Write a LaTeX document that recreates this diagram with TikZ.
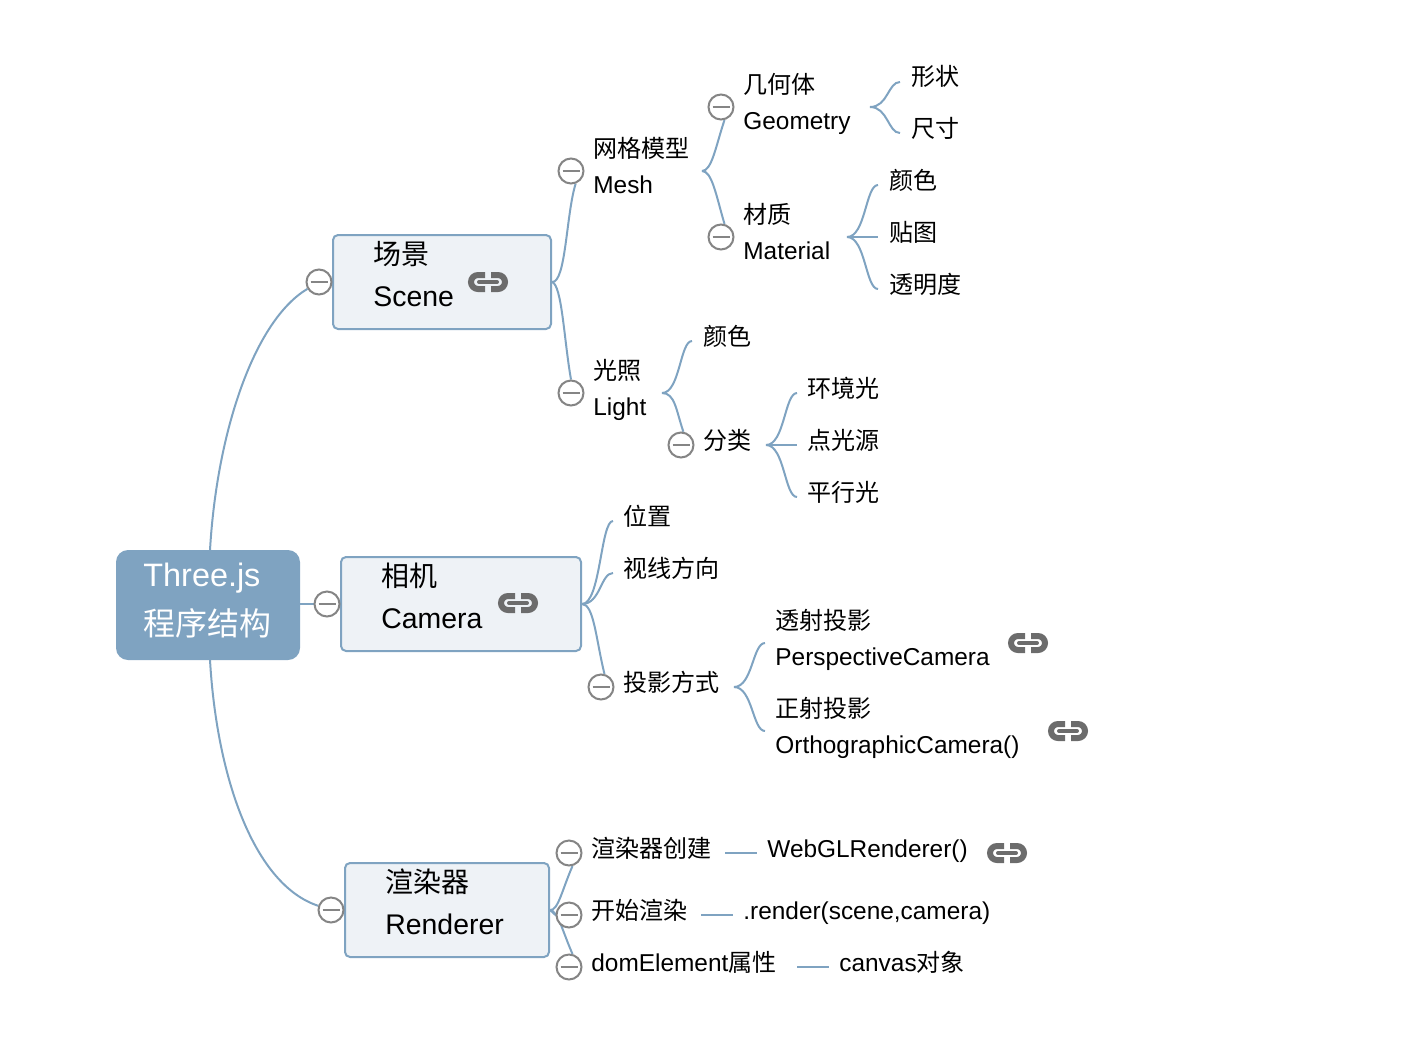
\documentclass[tikz,border=0pt]{standalone}
\usepackage{fontspec}
\setmainfont{Liberation Sans}
\newfontfamily\cjf[Scale=0.985]{Noto Sans CJK SC}
\newcommand\cj[1]{{\cjf #1}}
\usetikzlibrary{calc,backgrounds}
\definecolor{linkblue}{HTML}{7FA3C1}
\definecolor{boxfill}{HTML}{EEF2F6}
\definecolor{ctlgray}{HTML}{858585}
\definecolor{iconGray}{HTML}{6C6C6C}
\tikzset{
  conn/.style={draw=linkblue,line width=1pt},
  rootbox/.style={rectangle,fill=linkblue,rounded corners=6pt,inner sep=0pt},
  topicbox/.style={rectangle,draw=linkblue,fill=boxfill,line width=1pt,rounded corners=2.5pt,inner sep=0pt},
  collapse/.style={circle,draw=ctlgray,fill=white,line width=1pt,minimum size=12.5pt,inner sep=0pt,
    path picture={\draw[ctlgray,line width=1pt] ($(path picture bounding box.center)+(-8.5,0)$) -- ($(path picture bounding box.center)+(8.5,0)$);}},
  rootlbl/.style={anchor=base west,align=left,inner sep=0pt,text=white,font=\fontsize{16.2}{24.5}\selectfont},
  mainlbl/.style={anchor=base west,align=left,inner sep=0pt,text=black,font=\fontsize{14.2}{20.6}\selectfont},
  sublbl/.style={anchor=base west,align=left,inner sep=0pt,text=black,font=\fontsize{12.2}{18}\selectfont},
  pics/linkicon/.style={code={
    \draw[iconGray,line width=3pt] (-3,-7) -- (-10,-7) arc[start angle=270,end angle=90,radius=7] -- (-3,7);
    \draw[iconGray,line width=3pt] (3,-7) -- (10,-7) arc[start angle=-90,end angle=90,radius=7] -- (3,7);
    \draw[iconGray,line width=2pt,line cap=round] (-9,0) -- (9,0);
  }}
}
\newcommand\curl[2]{\draw[conn] (#1) .. controls ($(#1)!.6!(#2|-#1)$) and ($(#1|-#2)!.6!(#2)$) .. (#2);}
\begin{document}
\begin{tikzpicture}[x=0.5pt,y=-0.5pt]
\useasboundingbox (0,0) rectangle (1402,1056);
% boxes
\node[rootbox,minimum width=92pt,minimum height=55pt] (root) at (208,605) {};
\node[topicbox,minimum width=109pt,minimum height=47pt] (scene) at (442,282) {};
\node[topicbox,minimum width=120pt,minimum height=47pt] (camera) at (461,604) {};
\node[topicbox,minimum width=102pt,minimum height=47pt] (renderer) at (447,910) {};
% collapse controls
\node[collapse] (cScene) at (319,282) {};
\node[collapse] (cCamera) at (327,604) {};
\node[collapse] (cRenderer) at (331,910) {};
\node[collapse] (cMesh) at (571,171) {};
\node[collapse] (cLight) at (571,393) {};
\node[collapse] (cGeom) at (721,107) {};
\node[collapse] (cMat) at (721,237) {};
\node[collapse] (cKind) at (681,445) {};
\node[collapse] (cProj) at (601,687) {};
\node[collapse] (cCreate) at (569,853) {};
\node[collapse] (cStart) at (569,915) {};
\node[collapse] (cDom) at (569,967) {};
% branch coordinates
\coordinate (rootT) at (210,550);
\coordinate (rootB) at (210,660);
\coordinate (meshR) at (702,171);
\coordinate (geomR) at (870,107);
\coordinate (matR) at (847,237);
\coordinate (lightR) at (662,393);
\coordinate (kindR) at (766,445);
\coordinate (projR) at (734,687);
\coordinate (eShape) at (900,82);
\coordinate (eSize) at (900,133);
\coordinate (eCol) at (878,185);
\coordinate (eTex) at (878,237);
\coordinate (eOpa) at (878,289);
\coordinate (eLCol) at (692,341);
\coordinate (eAmb) at (797,393);
\coordinate (ePt) at (797,445);
\coordinate (ePar) at (797,497);
\coordinate (ePos) at (613,521);
\coordinate (eView) at (613,573);
\coordinate (ePer) at (765,643);
\coordinate (eOrt) at (765,731);
\coordinate (d1a) at (725,853);
\coordinate (d1b) at (757,853);
\coordinate (d2a) at (701,915);
\coordinate (d2b) at (733,915);
\coordinate (d3a) at (797,967);
\coordinate (d3b) at (829,967);
% connectors, behind the controls
\begin{pgfonlayer}{background}
\draw[conn] (rootT) .. controls (217,430) and (255,320) .. (cScene);
\draw[conn] (rootB) .. controls (217,780) and (255,885) .. (cRenderer);
\draw[conn] (root.east|-cCamera) -- (cCamera.west);
\draw[conn] (scene.east) .. controls (566,283) and (566,215) .. (cMesh.-70);
\draw[conn] (scene.east) .. controls (562,285) and (564,340) .. (cLight.north);
\draw[conn] (meshR) .. controls (712,171) and (716,145) .. (cGeom.-75);
\draw[conn] (meshR) .. controls (712,171) and (716,195) .. (cMat.75);
\draw[conn] (lightR) .. controls (675,393) and (676,410) .. (cKind.80);
\draw[conn] (camera.east) .. controls (594,604) and (596,640) .. (cProj.75);
\draw[conn] (renderer.east) .. controls (558,911) and (562,890) .. (cCreate.-75);
\draw[conn] (renderer.east) -- (cStart.west);
\draw[conn] (renderer.east) .. controls (558,911) and (562,930) .. (cDom.75);
\curl{geomR}{eShape}
\curl{geomR}{eSize}
\curl{matR}{eCol}
\curl{matR}{eTex}
\curl{matR}{eOpa}
\curl{lightR}{eLCol}
\curl{kindR}{eAmb}
\curl{kindR}{ePt}
\curl{kindR}{ePar}
\curl{camera.east}{ePos}
\curl{camera.east}{eView}
\curl{projR}{ePer}
\curl{projR}{eOrt}
\draw[conn] (d1a) -- (d1b);
\draw[conn] (d2a) -- (d2b);
\draw[conn] (d3a) -- (d3b);
\end{pgfonlayer}
% labels
\node[rootlbl] (tRoot) at (143,635) {Three.js\\\cj{程序结构}};
\node[mainlbl] (tScene) at (373,306) {\cj{场景}\\Scene};
\node[mainlbl] (tCamera) at (381,628) {\cj{相机}\\Camera};
\node[mainlbl] (tRenderer) at (385,934) {\cj{渲染器}\\Renderer};
\node[sublbl] (tMesh) at (593,193) {\cj{网格模型}\\Mesh};
\node[sublbl] (tLight) at (593,415) {\cj{光照}\\Light};
\node[sublbl] (tGeom) at (743,129) {\cj{几何体}\\Geometry};
\node[sublbl] (tMat) at (743,259) {\cj{材质}\\Material};
\node[sublbl] (tShape) at (911,85) {\cj{形状}};
\node[sublbl] (tSize) at (911,137) {\cj{尺寸}};
\node[sublbl] (tCol) at (889,189) {\cj{颜色}};
\node[sublbl] (tTex) at (889,241) {\cj{贴图}};
\node[sublbl] (tOpa) at (889,293) {\cj{透明度}};
\node[sublbl] (tLCol) at (703,345) {\cj{颜色}};
\node[sublbl] (tKind) at (703,449) {\cj{分类}};
\node[sublbl] (tAmb) at (807,397) {\cj{环境光}};
\node[sublbl] (tPt) at (807,449) {\cj{点光源}};
\node[sublbl] (tPar) at (807,501) {\cj{平行光}};
\node[sublbl] (tPos) at (623,525) {\cj{位置}};
\node[sublbl] (tView) at (623,577) {\cj{视线方向}};
\node[sublbl] (tProj) at (623,691) {\cj{投影方式}};
\node[sublbl] (tPer) at (775,665) {\cj{透射投影}\\PerspectiveCamera};
\node[sublbl] (tOrt) at (775,753) {\cj{正射投影}\\OrthographicCamera()};
\node[sublbl] (tCreate) at (591,857) {\cj{渲染器创建}};
\node[sublbl] (tWeb) at (767,857) {WebGLRenderer()};
\node[sublbl] (tStart) at (591,919) {\cj{开始渲染}};
\node[sublbl] (tRen) at (743,919) {.render(scene,camera)};
\node[sublbl] (tDom) at (591,971) {domElement\cj{属性}};
\node[sublbl] (tCanvas) at (839,971) {canvas\cj{对象}};
% link icons
\path (488,282) pic {linkicon};
\path (518,603) pic {linkicon};
\path (1028,643) pic {linkicon};
\path (1068,731) pic {linkicon};
\path (1007,853) pic {linkicon};
\end{tikzpicture}
\end{document}
